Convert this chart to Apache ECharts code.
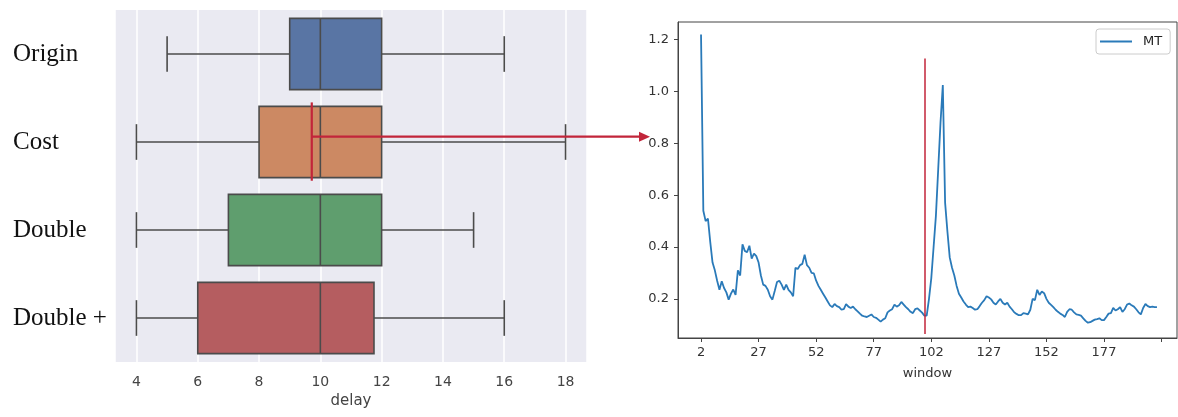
<!DOCTYPE html>
<html>
<head>
<meta charset="utf-8">
<script src="https://cdn.jsdelivr.net/npm/echarts@6.0.0/dist/echarts.min.js"></script>
<style>
html,body{margin:0;padding:0;background:#fff;}
#chart{width:1178px;height:417px;}
</style>
</head>
<body>
<div id="chart"></div>
<script>
// ---------- Left panel: box plot of delay ----------
const categories = ['Origin', 'Cost', 'Double', 'Double +'];
const boxMin    = [5, 4, 4, 4];
const boxQ1     = [9, 8, 7, 6];
const boxMedian = [10, 10, 10, 10];
const boxQ3     = [12, 12, 12, 11.75];
const boxMax    = [16, 18, 15, 16];
const boxColors = ['#5975a4', '#cc8963', '#5f9e6e', '#b55d60'];
const delayTickLabels = [4, 6, 8, 10, 12, 14, 16, 18];

// ---------- Right panel: MT per window ----------
const windowStart = 2;
const mtValues = [
  1.22,0.54,0.50,0.51,0.42,0.34,0.31,0.27,0.235,0.268,
  0.242,0.225,0.197,0.22,0.236,0.215,0.31,0.29,0.41,0.385,
  0.38,0.405,0.355,0.375,0.365,0.34,0.29,0.255,0.25,0.235,
  0.21,0.197,0.23,0.265,0.27,0.255,0.235,0.255,0.235,0.225,
  0.21,0.32,0.315,0.33,0.335,0.37,0.33,0.32,0.30,0.298,
  0.27,0.25,0.235,0.22,0.205,0.19,0.175,0.168,0.18,0.172,
  0.168,0.158,0.16,0.18,0.17,0.165,0.17,0.16,0.152,0.143,
  0.135,0.132,0.13,0.135,0.14,0.13,0.127,0.12,0.112,0.12,
  0.125,0.148,0.155,0.16,0.178,0.17,0.175,0.188,0.178,0.168,
  0.16,0.15,0.145,0.16,0.163,0.155,0.147,0.135,0.135,0.2,
  0.28,0.40,0.52,0.70,0.88,1.025,0.57,0.46,0.36,0.32,
  0.29,0.25,0.22,0.205,0.19,0.178,0.168,0.17,0.165,0.158,
  0.16,0.172,0.185,0.195,0.21,0.205,0.198,0.185,0.178,0.19,
  0.2,0.185,0.178,0.185,0.17,0.16,0.148,0.142,0.137,0.137,
  0.145,0.143,0.14,0.158,0.2,0.195,0.235,0.215,0.228,0.222,
  0.2,0.185,0.177,0.168,0.158,0.15,0.143,0.138,0.13,0.15,
  0.16,0.158,0.148,0.14,0.138,0.135,0.125,0.115,0.108,0.11,
  0.115,0.12,0.122,0.125,0.118,0.118,0.13,0.143,0.145,0.165,
  0.155,0.16,0.168,0.15,0.16,0.178,0.182,0.175,0.17,0.16,
  0.148,0.14,0.165,0.18,0.172,0.168,0.17,0.168,0.168
];
const windowTicks = [2, 27, 52, 77, 102, 127, 152, 177, 202];
const windowTickLabels = [2, 27, 52, 77, 102, 127, 152, 177];
const mtTicks = [0.2, 0.4, 0.6, 0.8, 1.0, 1.2];

// ---------- Annotation ----------
const markDelay = 9.72;          // red marker on the Cost box
const markCategoryIndex = 1;     // 'Cost'
const arrowTargetMT = 0.83;      // arrow points at this MT level
const markWindow = 99;           // red vertical line on the right panel
const markWindowRange = [0.064, 1.127];
const red = '#c2253a';

const boxData = categories.map((c, i) => [i, boxMin[i], boxQ1[i], boxMedian[i], boxQ3[i], boxMax[i]]);
const lineData = mtValues.map((v, i) => [windowStart + i, v]);

function renderBox(params, api) {
  const ci = api.value(0);
  const pt = v => api.coord([v, ci]);
  const pMin = pt(api.value(1));
  const yc = pMin[1];
  const xMin = pMin[0];
  const xQ1 = pt(api.value(2))[0];
  const xMed = pt(api.value(3))[0];
  const xQ3 = pt(api.value(4))[0];
  const xMax = pt(api.value(5))[0];
  const band = api.size([0, 1])[1];
  const h = band * 0.81;
  const cap = h / 4;
  const st = { stroke: '#4b4b4b', lineWidth: 1.6 };
  return {
    type: 'group',
    children: [
      { type: 'line', shape: { x1: xMin, y1: yc, x2: xQ1, y2: yc }, style: st },
      { type: 'line', shape: { x1: xQ3, y1: yc, x2: xMax, y2: yc }, style: st },
      { type: 'line', shape: { x1: xMin, y1: yc - cap, x2: xMin, y2: yc + cap }, style: st },
      { type: 'line', shape: { x1: xMax, y1: yc - cap, x2: xMax, y2: yc + cap }, style: st },
      { type: 'rect', shape: { x: xQ1, y: yc - h / 2, width: xQ3 - xQ1, height: h },
        style: { fill: boxColors[params.dataIndex], stroke: '#4b4b4b', lineWidth: 1.6 } },
      { type: 'line', shape: { x1: xMed, y1: yc - h / 2, x2: xMed, y2: yc + h / 2 }, style: st }
    ]
  };
}

const chart = echarts.init(document.getElementById('chart'), null, { renderer: 'canvas' });

const option = {
  animation: false,
  backgroundColor: '#ffffff',
  grid: [
    { left: 115, top: 10, width: 472, height: 352, show: true, backgroundColor: '#eaeaf2', borderWidth: 0 },
    { left: 678, top: 22, width: 499, height: 316, show: true, backgroundColor: '#ffffff', borderColor: '#444', borderWidth: 1 }
  ],
  xAxis: [
    {
      gridIndex: 0, type: 'value', min: 3.3, max: 18.7, splitNumber: 7, minInterval: 2, maxInterval: 2,
      name: 'delay', nameLocation: 'middle', nameGap: 32,
      nameTextStyle: { fontFamily: 'DejaVu Sans', fontSize: 15, color: '#444' },
      axisLine: { show: false }, axisTick: { show: false },
      axisLabel: { customValues: delayTickLabels, fontFamily: 'DejaVu Sans', fontSize: 14, color: '#444', margin: 13 },
      splitLine: { show: true, lineStyle: { color: '#ffffff', width: 1.5 } }
    },
    {
      gridIndex: 1, type: 'value', min: -8, max: 208.7,
      name: 'window', nameLocation: 'middle', nameGap: 29,
      nameTextStyle: { fontFamily: 'DejaVu Sans', fontSize: 13, color: '#333' },
      axisLine: { show: true, onZero: false, lineStyle: { color: '#444', width: 1 } },
      axisTick: { show: true, length: 4, customValues: windowTicks, lineStyle: { color: '#444' } },
      axisLabel: { customValues: windowTickLabels, fontFamily: 'DejaVu Sans', fontSize: 13, color: '#333', margin: 8 },
      splitLine: { show: false }
    }
  ],
  yAxis: [
    {
      gridIndex: 0, type: 'category', data: categories, inverse: true,
      axisLine: { show: false }, axisTick: { show: false },
      axisLabel: { fontFamily: 'Liberation Serif', fontSize: 25, color: '#111', align: 'left', margin: 102 },
      splitLine: { show: false }
    },
    {
      gridIndex: 1, type: 'value', min: 0.049, max: 1.268,
      axisLine: { show: true, onZero: false, lineStyle: { color: '#444', width: 1 } },
      axisTick: { show: true, length: 4, customValues: mtTicks, lineStyle: { color: '#444' } },
      axisLabel: { customValues: mtTicks, formatter: v => v.toFixed(1), fontFamily: 'DejaVu Sans', fontSize: 13, color: '#333', margin: 9 },
      splitLine: { show: false }
    }
  ],
  legend: {
    data: ['MT'],
    left: 1096, top: 29,
    padding: [6, 8, 6, 4],
    borderColor: '#cccccc', borderWidth: 1, borderRadius: 3,
    backgroundColor: '#ffffff',
    icon: 'rect', itemWidth: 32, itemHeight: 2,
    textStyle: { fontFamily: 'DejaVu Sans', fontSize: 13, color: '#222', padding: [0, 0, 0, 6] }
  },
  series: [
    {
      type: 'custom', name: 'delay', xAxisIndex: 0, yAxisIndex: 0,
      renderItem: renderBox, data: boxData,
      encode: { x: [1, 2, 3, 4, 5], y: 0 }, silent: true, z: 3
    },
    {
      type: 'line', name: 'MT', xAxisIndex: 1, yAxisIndex: 1,
      data: lineData, symbol: 'none', showSymbol: false,
      lineStyle: { color: '#2a7ab9', width: 1.8 }, itemStyle: { color: '#2a7ab9' },
      z: 3,
      markLine: {
        silent: true, symbol: ['none', 'none'], label: { show: false },
        lineStyle: { color: red, width: 1.5, type: 'solid' },
        data: [[{ coord: [markWindow, markWindowRange[1]] }, { coord: [markWindow, markWindowRange[0]] }]]
      }
    }
  ]
};
chart.setOption(option);

// Annotation connecting both panels, positioned through the axes' own scales
const pCenter = chart.convertToPixel({ xAxisIndex: 0, yAxisIndex: 0 }, [markDelay, markCategoryIndex]);
const pNext = chart.convertToPixel({ xAxisIndex: 0, yAxisIndex: 0 }, [markDelay, markCategoryIndex + 1]);
const band = Math.abs(pNext[1] - pCenter[1]);
const vTop = pCenter[1] - band * 0.45;
const vBot = pCenter[1] + band * 0.44;
const yArrowLeft = pCenter[1] - band * 0.06;
const pTarget = chart.convertToPixel({ xAxisIndex: 1, yAxisIndex: 1 }, [-8, arrowTargetMT]);
const tipX = pTarget[0] - 28;
chart.setOption({
  graphic: [
    { type: 'line', z: 100, shape: { x1: pCenter[0], y1: vTop, x2: pCenter[0], y2: vBot }, style: { stroke: red, lineWidth: 2.2 } },
    { type: 'line', z: 100, shape: { x1: pCenter[0], y1: yArrowLeft, x2: tipX - 8, y2: yArrowLeft }, style: { stroke: red, lineWidth: 2.2 } },
    { type: 'polygon', z: 100, shape: { points: [[tipX, yArrowLeft], [tipX - 11, yArrowLeft - 5], [tipX - 11, yArrowLeft + 5]] }, style: { fill: red } }
  ]
});
</script>
</body>
</html>
